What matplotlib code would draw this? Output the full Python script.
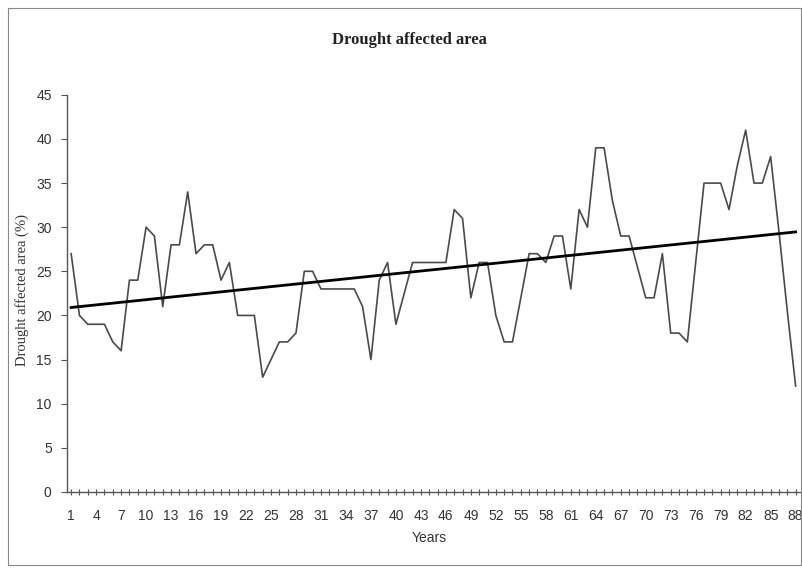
import numpy as np
import matplotlib.pyplot as plt
from matplotlib.patches import Rectangle

# Drought affected area (%) per year
years = np.arange(1, 89)
area = [27, 20, 19, 19, 19, 17, 16, 24, 24, 30,
        29, 21, 28, 28, 34, 27, 28, 28, 24, 26,
        20, 20, 20, 13, 15, 17, 17, 18, 25, 25,
        23, 23, 23, 23, 23, 21, 15, 24, 26, 19,
        22.5, 26, 26, 26, 26, 26, 32, 31, 22, 26,
        26, 20, 17, 17, 22, 27, 27, 26, 29, 29,
        23, 32, 30, 39, 39, 33, 29, 29, 25.5, 22,
        22, 27, 18, 18, 17, 26, 35, 35, 35, 32,
        37, 41, 35, 35, 38, 29.5, 20.5, 12]
tick_years = list(range(1, 89, 3))
y_ticks = list(range(0, 50, 5))

# linear trend like the Excel trendline
coef = np.polyfit(years, area, 1)
trend = np.polyval(coef, years)

fig = plt.figure(figsize=(8.03, 5.68), dpi=100)
ax = fig.add_axes([0.0834, 0.134, 0.9126, 0.699])

ax.plot(years, area, color="#4a4a4a", linewidth=1.2)
ax.plot(years, trend, color="black", linewidth=2.0)

ax.set_xlim(0.5, 88.5)
ax.set_ylim(0, 45)
ax.set_xticks(tick_years)
ax.set_xticks(years, minor=True)
ax.set_yticks(y_ticks)

for s in ["top", "right"]:
    ax.spines[s].set_visible(False)
for s in ["left", "bottom"]:
    ax.spines[s].set_color("#555555")
    ax.spines[s].set_linewidth(1.0)

ax.tick_params(axis="x", which="both", direction="inout", length=5, width=0.8,
               color="#555555", pad=10, labelsize=10, labelcolor="#333333")
ax.tick_params(axis="y", direction="out", length=4, width=0.8, color="#555555",
               pad=7, labelsize=10, labelcolor="#333333")
for lab in ax.get_xticklabels() + ax.get_yticklabels():
    lab.set_family("Liberation Sans")

fig.text(0.51, 0.93, "Drought affected area", ha="center", va="center",
         family="Liberation Serif", fontweight="bold", fontsize=12, color="#222222")
fig.text(0.027, 0.49, "Drought affected area (%)", rotation=90, ha="center",
         va="center", family="Liberation Serif", fontsize=10.5, color="#333333")
fig.text(0.535, 0.052, "Years", ha="center", va="center",
         family="Liberation Sans", fontsize=10, color="#333333")

# outer chart border
fig.patches.append(Rectangle((0.010, 0.005), 0.988, 0.981, transform=fig.transFigure,
                             fill=False, edgecolor="#888888", linewidth=0.8))

fig.savefig("out.png", dpi=100)
